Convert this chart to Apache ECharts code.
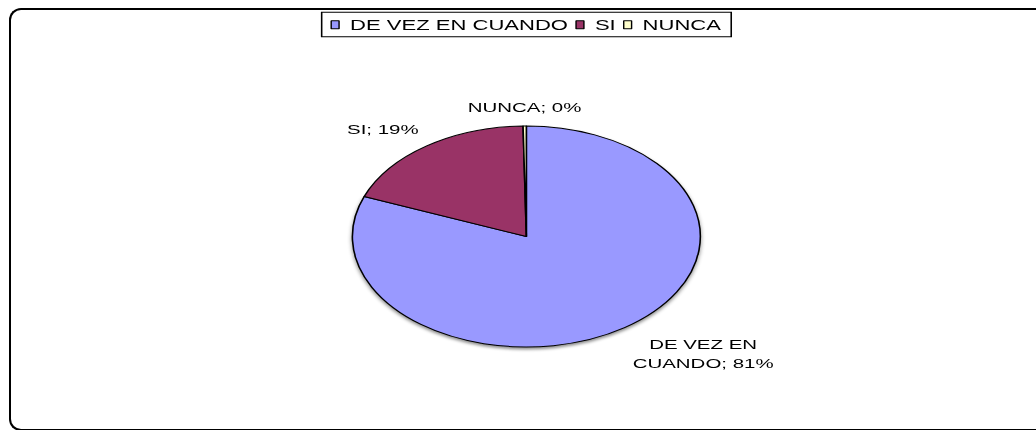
<!DOCTYPE html>
<html>
<head>
<meta charset="utf-8">
<script src="https://cdn.jsdelivr.net/npm/echarts@6/dist/echarts.min.js"></script>
<style>
  html, body { margin: 0; padding: 0; background: #fff; overflow: hidden; }
  #wrap { position: relative; width: 1036px; height: 430px; overflow: hidden; }
  /* the reference is an old spreadsheet chart stretched sideways: draw narrow, then widen */
  #chart { position: absolute; left: 0; top: 0; width: 658px; height: 430px;
           transform: scaleX(1.5745); transform-origin: 0 0; }
  /* outer chart frame, its right side runs off the picture */
  #frame { position: absolute; left: 9px; top: 8px; right: 0; height: 419px;
           border: 2px solid #000; border-right: none; border-radius: 12px 0 0 12px; pointer-events: none; }
</style>
</head>
<body>
<div id="wrap">
  <div id="chart"></div>
  <div id="frame"></div>
</div>
<script>
const categories = ['DE VEZ EN CUANDO', 'SI', 'NUNCA']
const shares     = [80.9, 18.8, 0.3]
const colors     = ['#9999FF', '#993366', '#FFFFCC']

const center = [334.3, 236.5]
const radius = 110.5
const labelGap = 9

const total = shares.reduce((a, b) => a + b, 0)
// mid angle of each slice, clockwise from 12 o'clock
const midAngles = []
let acc = 0
shares.forEach(v => {
  midAngles.push(90 - (acc + v / 2) / total * 360)
  acc += v
})

const chart = echarts.init(document.getElementById('chart'), null, { renderer: 'svg' })
chart.setOption({
  animation: false,
  color: colors,
  legend: {
    data: categories,
    left: 204.3, top: 12.3,
    padding: [5.5, 6.5, 5, 5.6],
    itemGap: 4.6,
    itemWidth: 5, itemHeight: 8,
    icon: 'rect',
    borderColor: '#000', borderWidth: 1,
    itemStyle: { borderColor: '#000', borderWidth: 0.9 },
    textStyle: { fontFamily: 'Liberation Sans, Arial, sans-serif', fontSize: 14, color: '#000', padding: [0, 0, 0, 2] },
  },
  series: [{
    type: 'pie',
    center: center,
    radius: radius,
    startAngle: 90,
    clockwise: true,
    percentPrecision: 0,
    avoidLabelOverlap: false,
    silent: true,
    itemStyle: { borderColor: '#000', borderWidth: 1 },
    label: {
      show: true,
      position: 'outside',
      formatter: p => p.name === categories[0] ? 'DE VEZ EN\nCUANDO; ' + p.percent + '%' : p.name + '; ' + p.percent + '%',
      fontFamily: 'Liberation Sans, Arial, sans-serif',
      fontSize: 13,
      lineHeight: 19,
      color: '#000',
      align: 'center',
    },
    labelLine: { show: false },
    labelLayout: params => {
      const a = midAngles[params.dataIndex] * Math.PI / 180
      const cx = Math.cos(a), sy = Math.sin(a)
      const w = params.labelRect.width, h = params.labelRect.height
      let x = center[0] + (radius + labelGap) * cx
      let y = center[1] - (radius + labelGap) * sy
      if (Math.abs(cx) > 0.1) x += Math.sign(cx) * w / 2
      if (Math.abs(sy) > 0.1) y -= Math.sign(sy) * h / 2
      return { x, y, align: 'center', verticalAlign: 'middle' }
    },
    data: categories.map((name, i) => ({
      name,
      value: shares[i],
      itemStyle: i === 0 ? { shadowColor: 'rgba(0,0,0,0.45)', shadowBlur: 3, shadowOffsetY: 2 } : undefined,
    })),
  }],
})
</script>
</body>
</html>
